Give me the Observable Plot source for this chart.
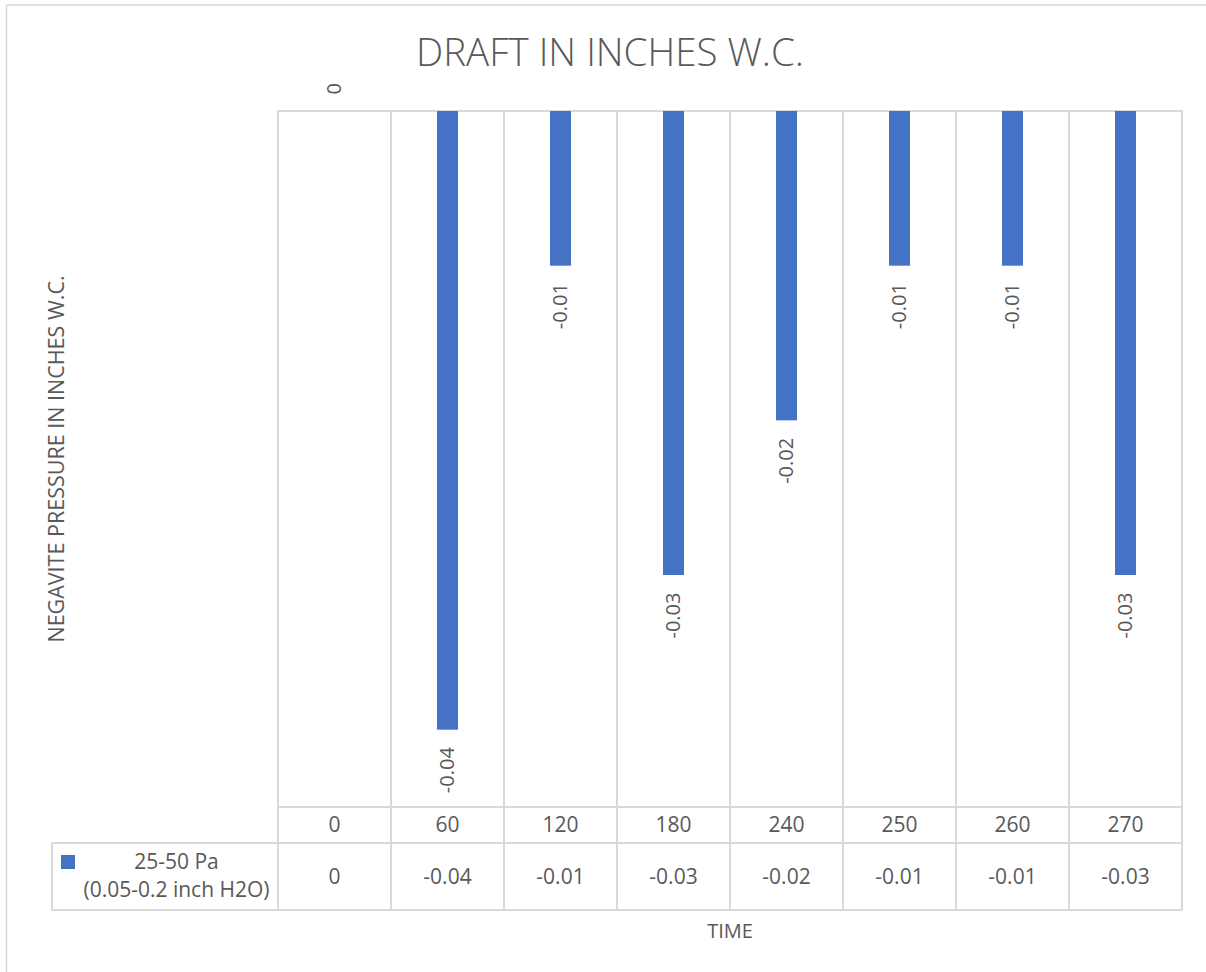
<!DOCTYPE html>
<html>
<head>
<meta charset="utf-8">
<script src="https://cdn.jsdelivr.net/npm/d3@7"></script>
<script src="https://cdn.jsdelivr.net/npm/@observablehq/plot@0.6"></script>
<style>
  html, body { margin: 0; padding: 0; background: #ffffff; overflow: hidden; }
  #chart { position: relative; width: 1206px; height: 972px; font-family: "Open Sans", sans-serif; }
  #chart svg { position: absolute; left: 0; top: 0; }
</style>
</head>
<body>
<div id="chart"></div>
<script>
// ---- data ----
const times = [0, 60, 120, 180, 240, 250, 260, 270];
const draft = [0, -0.04, -0.01, -0.03, -0.02, -0.01, -0.01, -0.03];
const seriesLabel = ["25-50 Pa", "(0.05-0.2 inch H2O)"];
const titleText = "DRAFT IN INCHES W.C.";
const yLabelText = "NEGAVITE PRESSURE IN INCHES W.C.";
const xLabelText = "TIME";
const yDomain = [-0.045, 0];

const BLUE = "#4472C4";
const GRID = "#d9d9d9";
const TEXT = "#595959";

const data = times.map((t, i) => ({ time: String(t), value: draft[i] }));

const chart = Plot.plot({
  width: 1206,
  height: 860,
  marginTop: 111,
  marginBottom: 53,
  marginLeft: 277,
  marginRight: 23,
  style: { fontFamily: "'Open Sans', sans-serif", background: "transparent", overflow: "visible" },
  x: { type: "band", domain: data.map(d => d.time), padding: 0, axis: null },
  y: { domain: yDomain, axis: null },
  marks: [
    Plot.cell(data, { x: "time", fill: "none", stroke: GRID, strokeWidth: 2 }),
    Plot.barY(data, { x: "time", y: "value", fill: BLUE, insetLeft: 46, insetRight: 46 }),
    Plot.text(data.filter(d => d.value !== 0), {
      x: "time", y: "value", text: d => String(d.value),
      rotate: -90, textAnchor: "end", dy: 17, fontSize: 20, fill: TEXT
    }),
    Plot.text(data.filter(d => d.value === 0), {
      x: "time", y: "value", text: d => String(d.value),
      rotate: -90, textAnchor: "start", dy: -17, fontSize: 20, fill: TEXT
    })
  ]
});

const root = document.getElementById("chart");
root.appendChild(chart);

// ---- overlay: title, axis titles, data table (positions from Plot's x scale) ----
const xs = chart.scale("x");
const bw = xs.bandwidth;
const domain = xs.domain;
const left = xs.apply(domain[0]);
const right = xs.apply(domain[domain.length - 1]) + bw;
const tableTop = 860 - 53;
const row1 = tableTop + 36;
const row2 = row1 + 67;
const legendLeft = 52;

const svg = d3.create("svg")
  .attr("width", 1206).attr("height", 972)
  .style("font-family", "'Open Sans', sans-serif")
  .style("pointer-events", "none");

svg.append("rect")
  .attr("x", 6.5).attr("y", 5).attr("width", 1400).attr("height", 1200)
  .attr("fill", "none").attr("stroke", GRID).attr("stroke-width", 1.5);

svg.append("text")
  .attr("x", 610).attr("y", 66).attr("text-anchor", "middle")
  .attr("font-size", 38.5).attr("font-weight", 300).attr("fill", TEXT)
  .text(titleText);

svg.append("text")
  .attr("transform", `translate(64,${(111 + tableTop) / 2}) rotate(-90)`)
  .attr("text-anchor", "middle").attr("font-size", 21.5).attr("fill", TEXT)
  .text(yLabelText);

svg.append("text")
  .attr("x", (left + right) / 2).attr("y", 938).attr("text-anchor", "middle")
  .attr("font-size", 20).attr("fill", TEXT)
  .text(xLabelText);

const lines = svg.append("g").attr("stroke", GRID).attr("stroke-width", 2);
lines.append("line").attr("x1", left).attr("x2", right).attr("y1", tableTop).attr("y2", tableTop);
lines.append("line").attr("x1", legendLeft).attr("x2", right).attr("y1", row1).attr("y2", row1);
lines.append("line").attr("x1", legendLeft).attr("x2", right).attr("y1", row2).attr("y2", row2);
lines.append("line").attr("x1", legendLeft).attr("x2", legendLeft).attr("y1", row1).attr("y2", row2);
domain.forEach(t => {
  const x0 = xs.apply(t);
  lines.append("line").attr("x1", x0).attr("x2", x0).attr("y1", tableTop).attr("y2", row2);
});
lines.append("line").attr("x1", right).attr("x2", right).attr("y1", tableTop).attr("y2", row2);

const cells = svg.append("g").attr("font-size", 21).attr("fill", TEXT).attr("text-anchor", "middle");
data.forEach(d => {
  const cx = xs.apply(d.time) + bw / 2;
  cells.append("text").attr("x", cx).attr("y", tableTop + 25).text(d.time);
  cells.append("text").attr("x", cx).attr("y", row1 + 41).text(String(d.value));
});

svg.append("rect").attr("x", 61).attr("y", 855).attr("width", 14).attr("height", 14).attr("fill", BLUE);
const legendCenter = (75 + left) / 2;
svg.append("text").attr("x", legendCenter).attr("y", 869).attr("text-anchor", "middle")
  .attr("font-size", 21).attr("fill", TEXT).text(seriesLabel[0]);
svg.append("text").attr("x", legendCenter).attr("y", 897).attr("text-anchor", "middle")
  .attr("font-size", 21).attr("fill", TEXT).text(seriesLabel[1]);

root.appendChild(svg.node());
</script>
</body>
</html>
